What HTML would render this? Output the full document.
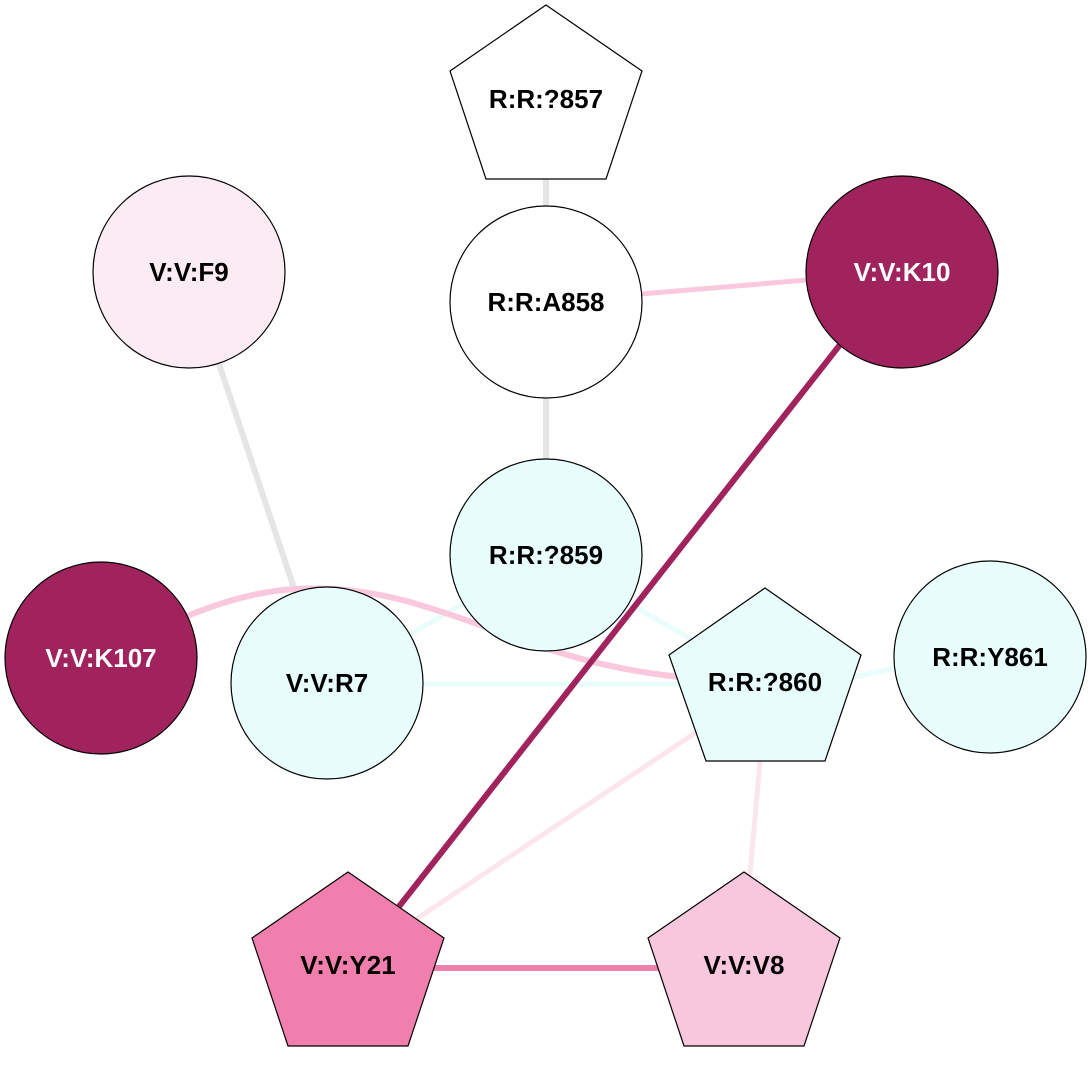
<!DOCTYPE html>
<html>
<head>
<meta charset="utf-8">
<style>
  html, body { margin: 0; padding: 0; background: #ffffff; }
  svg { display: block; }
  text { font-family: "Liberation Sans", Arial, sans-serif; font-weight: bold; font-size: 26px; text-anchor: middle; }
</style>
</head>
<body>
<svg width="1092" height="1070" viewBox="0 0 1092 1070" xmlns="http://www.w3.org/2000/svg">
  <rect x="0" y="0" width="1092" height="1070" fill="#ffffff"/>

  <!-- edges -->
  <g fill="none" stroke-linecap="butt">
    <!-- gray -->
    <line x1="546" y1="170" x2="546" y2="215" stroke="#e5e5e5" stroke-width="6"/>
    <line x1="546" y1="390" x2="546" y2="470" stroke="#e5e5e5" stroke-width="6"/>
    <line x1="213" y1="346" x2="298" y2="600" stroke="#e5e5e5" stroke-width="6"/>
    <!-- cyan -->
    <line x1="327" y1="683" x2="546" y2="555" stroke="#e8fdfc" stroke-width="5"/>
    <line x1="546" y1="555" x2="765" y2="682" stroke="#e8fdfc" stroke-width="5"/>
    <line x1="327" y1="684" x2="765" y2="684" stroke="#e8fdfc" stroke-width="5"/>
    <line x1="840" y1="680" x2="910" y2="665" stroke="#e8fdfc" stroke-width="5"/>
    <!-- pink A858-K10 -->
    <line x1="546" y1="302" x2="902" y2="272" stroke="#f9c8dc" stroke-width="5"/>
    <!-- pink curve K107 - ?860 -->
    <path d="M150,640 C170,628 180,619 190,615 C250,590 320,575 420,605 C520,635 570,668 700,679" stroke="#f9c8dc" stroke-width="6"/>
    <!-- light pink -->
    <line x1="710" y1="723" x2="400" y2="930" stroke="#fbe6ef" stroke-width="5"/>
    <line x1="761" y1="750" x2="749" y2="885" stroke="#fbe6ef" stroke-width="5"/>
    <!-- Y21 - V8 -->
    <line x1="430" y1="968" x2="660" y2="968" stroke="#f07fad" stroke-width="6"/>
    <!-- K10 - Y21 -->
    <line x1="850" y1="332" x2="390" y2="918" stroke="#a0235d" stroke-width="6"/>
  </g>

  <!-- nodes -->
  <g stroke="#000000" stroke-width="1.2">
    <polygon points="546,5 642,71 606,179 486,179 450,71" fill="#ffffff"/>
    <circle cx="189" cy="272" r="96" fill="#fbebf3"/>
    <circle cx="546" cy="302" r="96" fill="#ffffff"/>
    <circle cx="902" cy="272" r="96" fill="#a0235d"/>
    <circle cx="546" cy="555" r="96" fill="#e8fefd"/>
    <circle cx="101" cy="658" r="96" fill="#a0235d"/>
    <circle cx="327" cy="683" r="96" fill="#e8fefd"/>
    <circle cx="990" cy="657" r="96" fill="#e8fefd"/>
    <polygon points="765,588 861,655 825,761 706,761 669,655" fill="#e8fefd"/>
    <polygon points="348,872 444,938 408,1046 288,1046 252,938" fill="#f07fad"/>
    <polygon points="744,872 840,938 804,1046 684,1046 648,938" fill="#f9c7dd"/>
  </g>

  <!-- labels -->
  <text x="546" y="108" fill="#000">R:R:?857</text>
  <text x="189" y="281" fill="#000">V:V:F9</text>
  <text x="546" y="311" fill="#000">R:R:A858</text>
  <text x="902" y="281" fill="#ffffff">V:V:K10</text>
  <text x="546" y="564" fill="#000">R:R:?859</text>
  <text x="101" y="667" fill="#ffffff">V:V:K107</text>
  <text x="327" y="692" fill="#000">V:V:R7</text>
  <text x="990" y="666" fill="#000">R:R:Y861</text>
  <text x="765" y="691" fill="#000">R:R:?860</text>
  <text x="348" y="974" fill="#000">V:V:Y21</text>
  <text x="744" y="974" fill="#000">V:V:V8</text>
</svg>
</body>
</html>
